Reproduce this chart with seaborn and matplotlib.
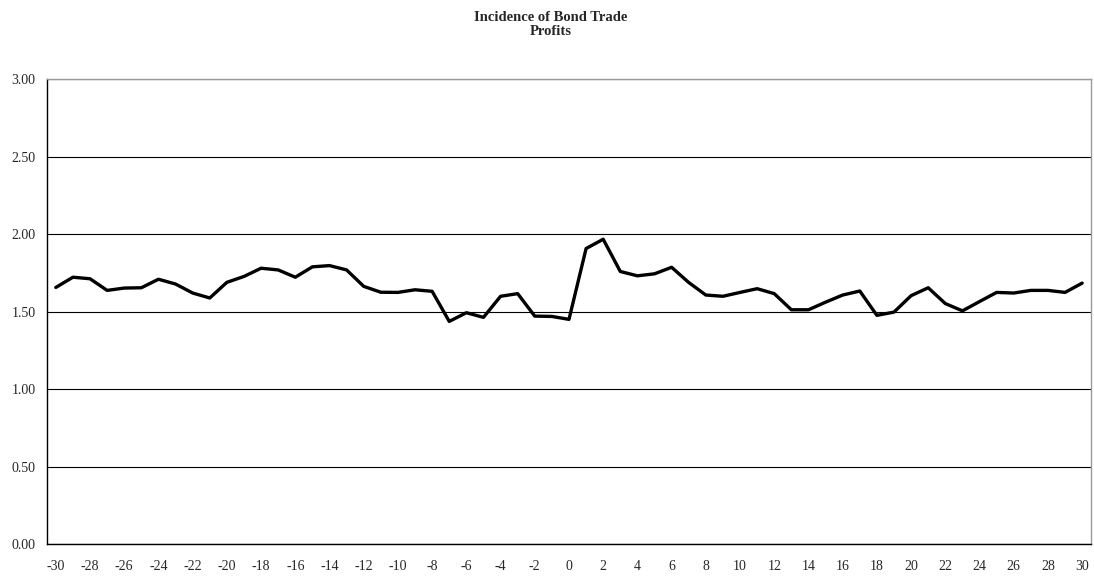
import seaborn as sns
import matplotlib.pyplot as plt
import pandas as pd
import numpy as np
from matplotlib.ticker import MultipleLocator, FixedLocator

sns.set_style("white")
plt.rcParams['font.family'] = ['Liberation Serif', 'DejaVu Serif']
plt.rcParams['axes.unicode_minus'] = False

# Event days relative to the event (day 0)
days = list(range(-30, 31))

# Incidence of bond trade profits
incidence = [
    1.657, 1.723, 1.713, 1.638, 1.653, 1.655, 1.710, 1.679, 1.621, 1.589,
    1.690, 1.728, 1.781, 1.770, 1.723, 1.790, 1.798, 1.770, 1.664, 1.626,
    1.625, 1.642, 1.632, 1.438, 1.494, 1.464, 1.600, 1.617, 1.472, 1.470,
    1.451, 1.908, 1.968, 1.760, 1.732, 1.745, 1.787, 1.689, 1.608, 1.600,
    1.625, 1.649, 1.617, 1.513, 1.513, 1.562, 1.608, 1.634, 1.477, 1.498,
    1.604, 1.655, 1.553, 1.506, 1.566, 1.625, 1.621, 1.638, 1.638, 1.625,
    1.685,
]

df = pd.DataFrame({"day": days, "incidence": incidence})

fig = plt.figure(figsize=(10.94, 5.77), dpi=100)
ax = fig.add_axes([0.0432, 0.0567, 0.9538, 0.8059])

sns.lineplot(data=df, x="day", y="incidence", ax=ax, color="black", linewidth=2.4)

ax.set_xlim(-30.5, 30.5)
ax.set_ylim(0, 3)

# horizontal gridlines
ax.yaxis.set_major_locator(MultipleLocator(0.5))
ax.yaxis.grid(True, color="black", linewidth=0.8)
ax.set_axisbelow(True)
ax.set_yticks(np.arange(0, 3.01, 0.5))
ax.set_yticklabels([f"{v:.2f}" for v in np.arange(0, 3.01, 0.5)])

# category style x-axis: ticks between categories, labels on even days
ax.xaxis.set_major_locator(FixedLocator(list(range(-30, 31, 2))))
ax.xaxis.set_minor_locator(FixedLocator(list(np.arange(-30.5, 31, 1.0))))
ax.tick_params(axis="x", which="major", length=0, pad=11, labelsize=10)
ax.tick_params(axis="x", which="minor", length=3.6, width=0.8, color="black", direction="out")
ax.tick_params(axis="y", which="major", length=3.4, width=0.8, color="black", direction="out",
               pad=5, labelsize=10)

ax.spines["left"].set_color("black")
ax.spines["bottom"].set_color("black")
ax.spines["top"].set_color("#9a9a9a")
ax.spines["right"].set_color("#9a9a9a")
for s in ax.spines.values():
    s.set_linewidth(1.0)

ax.set_xlabel("")
ax.set_ylabel("")

fig.text(0.503, 0.981, "Incidence of Bond Trade\nProfits", ha="center", va="top",
         fontsize=10.5, fontweight="bold", linespacing=1.15)

plt.savefig("out.png", dpi=100)
plt.close()
